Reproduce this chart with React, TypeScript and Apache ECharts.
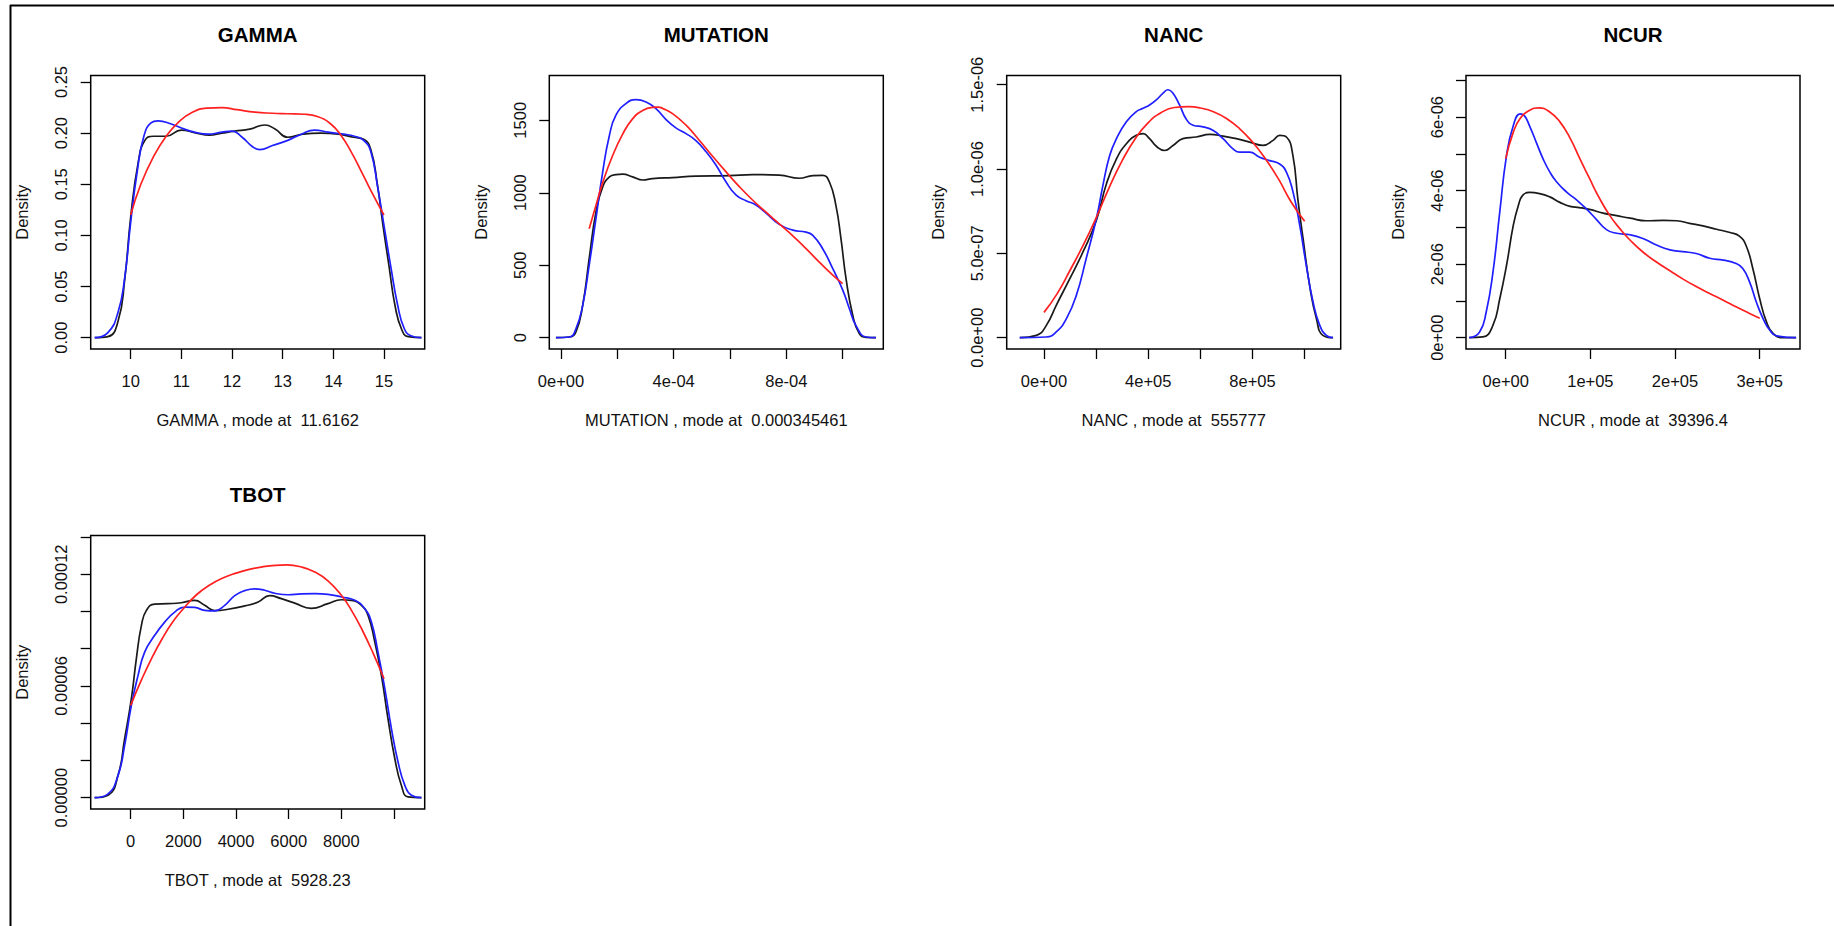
import React, { useEffect, useRef } from "react";
import * as echarts from "echarts";

const FONT = '"Liberation Sans", Arial, Helvetica, sans-serif';

// ---------- titles / axis names ----------
const panelTitles = ["GAMMA", "MUTATION", "NANC", "NCUR", "TBOT"];
const panelXNames = [
  "GAMMA , mode at  11.6162",
  "MUTATION , mode at  0.000345461",
  "NANC , mode at  555777",
  "NCUR , mode at  39396.4",
  "TBOT , mode at  5928.23",
];

// ---------- tick values and labels ----------
const gammaXTicks = [10, 11, 12, 13, 14, 15];
const gammaXLabelVals = [10, 11, 12, 13, 14, 15];
const gammaXLabels = ["10", "11", "12", "13", "14", "15"];
const gammaYTicks = [0, 0.05, 0.1, 0.15, 0.2, 0.25];
const gammaYLabels = ["0.00", "0.05", "0.10", "0.15", "0.20", "0.25"];

const mutationXTicks = [0, 2e-4, 4e-4, 6e-4, 8e-4, 1e-3];
const mutationXLabelVals = [0, 4e-4, 8e-4];
const mutationXLabels = ["0e+00", "4e-04", "8e-04"];
const mutationYTicks = [0, 500, 1000, 1500];
const mutationYLabels = ["0", "500", "1000", "1500"];

const nancXTicks = [0, 2e5, 4e5, 6e5, 8e5, 1e6];
const nancXLabelVals = [0, 4e5, 8e5];
const nancXLabels = ["0e+00", "4e+05", "8e+05"];
const nancYTicks = [0, 5e-7, 1e-6, 1.5e-6];
const nancYLabels = ["0.0e+00", "5.0e-07", "1.0e-06", "1.5e-06"];

const ncurXTicks = [0, 1e5, 2e5, 3e5];
const ncurXLabels = ["0e+00", "1e+05", "2e+05", "3e+05"];
const ncurYTicks = [0, 1e-6, 2e-6, 3e-6, 4e-6, 5e-6, 6e-6, 7e-6];
const ncurYLabelVals = [0, 2e-6, 4e-6, 6e-6];
const ncurYLabels = ["0e+00", "2e-06", "4e-06", "6e-06"];

const tbotXTicks = [0, 2000, 4000, 6000, 8000, 10000];
const tbotXLabelVals = [0, 2000, 4000, 6000, 8000];
const tbotXLabels = ["0", "2000", "4000", "6000", "8000"];
const tbotYTicks = [0, 2e-5, 4e-5, 6e-5, 8e-5, 1e-4, 1.2e-4, 1.4e-4];
const tbotYLabelVals = [0, 6e-5, 1.2e-4];
const tbotYLabels = ["0.00000", "0.00006", "0.00012"];

// ---------- density curves ----------
const gammaBlack = [[9.29,0],[9.55,0.001],[9.75,0.016],[9.88,0.056],[10.0,0.118],[10.15,0.172],[10.28,0.193],[10.45,0.197],[10.7,0.197],[11.0,0.203],[11.3,0.2],[11.55,0.198],[11.8,0.2],[12.05,0.202],[12.35,0.204],[12.65,0.208],[12.85,0.204],[13.1,0.196],[13.4,0.199],[13.75,0.2],[14.1,0.199],[14.4,0.196],[14.6,0.194],[14.74,0.184],[14.87,0.15],[14.98,0.11],[15.1,0.07],[15.22,0.031],[15.35,0.008],[15.48,0.001],[15.74,0]];
const gammaBlue = [[9.29,0],[9.55,0.005],[9.75,0.025],[9.88,0.058],[10.0,0.113],[10.13,0.163],[10.26,0.197],[10.4,0.21],[10.54,0.212],[10.8,0.209],[11.0,0.205],[11.26,0.201],[11.53,0.199],[11.8,0.201],[12.0,0.202],[12.2,0.196],[12.4,0.187],[12.55,0.184],[12.8,0.188],[13.1,0.193],[13.37,0.199],[13.63,0.203],[13.9,0.201],[14.2,0.199],[14.42,0.197],[14.6,0.193],[14.74,0.182],[14.88,0.146],[15.01,0.107],[15.14,0.068],[15.27,0.032],[15.4,0.009],[15.53,0.002],[15.74,0]];
const gammaRed = [[10.0,0.12],[10.2,0.15],[10.45,0.177],[10.7,0.197],[10.95,0.211],[11.2,0.22],[11.5,0.2245],[11.8,0.225],[12.1,0.223],[12.45,0.2205],[12.8,0.2195],[13.1,0.219],[13.43,0.2185],[13.7,0.216],[13.95,0.209],[14.15,0.198],[14.35,0.182],[14.55,0.163],[14.75,0.143],[15.0,0.12]];

const mutationBlack = [[-0.18e-4,0],[0.3e-4,5],[0.53e-4,39],[0.77e-4,223],[1.0e-4,545],[1.24e-4,867],[1.48e-4,1040],[1.72e-4,1109],[1.95e-4,1125],[2.19e-4,1128],[2.54e-4,1110],[2.9e-4,1088],[3.25e-4,1097],[3.96e-4,1105],[4.79e-4,1115],[5.98e-4,1118],[6.8e-4,1125],[7.75e-4,1122],[8.46e-4,1100],[8.94e-4,1118],[9.29e-4,1120],[9.53e-4,1074],[9.76e-4,913],[9.94e-4,683],[10.12e-4,407],[10.36e-4,154],[10.59e-4,28],[10.83e-4,2],[11.18e-4,0]];
const mutationBlue = [[-0.18e-4,0],[0.3e-4,5],[0.53e-4,62],[0.77e-4,223],[1.0e-4,499],[1.24e-4,821],[1.48e-4,1143],[1.72e-4,1397],[1.95e-4,1535],[2.31e-4,1616],[2.66e-4,1642],[3.02e-4,1626],[3.37e-4,1580],[3.73e-4,1505],[4.08e-4,1448],[4.44e-4,1408],[4.79e-4,1360],[5.15e-4,1283],[5.5e-4,1191],[5.86e-4,1074],[6.21e-4,985],[6.57e-4,945],[6.92e-4,916],[7.28e-4,860],[7.75e-4,782],[8.23e-4,742],[8.7e-4,728],[8.94e-4,706],[9.29e-4,614],[9.65e-4,476],[10.0e-4,330],[10.24e-4,200],[10.47e-4,85],[10.83e-4,5],[11.18e-4,0]];
const mutationRed = [[1.0e-4,752],[1.24e-4,913],[1.48e-4,1070],[1.83e-4,1255],[2.19e-4,1405],[2.54e-4,1510],[2.9e-4,1568],[3.25e-4,1589],[3.45e-4,1591],[3.61e-4,1582],[3.96e-4,1546],[4.44e-4,1466],[4.91e-4,1362],[5.39e-4,1250],[5.86e-4,1144],[6.33e-4,1042],[6.8e-4,950],[7.28e-4,866],[7.75e-4,785],[8.23e-4,703],[8.7e-4,615],[9.17e-4,522],[9.65e-4,432],[10.0e-4,373]];

const nancBlack = [[-0.93e5,0],[-0.29e5,0.14e-7],[0.09e5,0.73e-7],[0.47e5,1.92e-7],[0.99e5,3.5e-7],[1.5e5,5.1e-7],[2.01e5,6.96e-7],[2.39e5,9.1e-7],[2.78e5,10.6e-7],[3.16e5,11.5e-7],[3.54e5,12.0e-7],[3.8e5,12.1e-7],[4.05e5,11.8e-7],[4.31e5,11.35e-7],[4.63e5,11.1e-7],[4.95e5,11.4e-7],[5.33e5,11.8e-7],[5.84e5,11.9e-7],[6.36e5,12.05e-7],[6.87e5,11.95e-7],[7.38e5,11.8e-7],[7.89e5,11.6e-7],[8.4e5,11.4e-7],[8.79e5,11.7e-7],[9.04e5,12.0e-7],[9.3e5,11.9e-7],[9.55e5,10.8e-7],[9.74e5,8.2e-7],[9.94e5,5.87e-7],[10.19e5,3.1e-7],[10.45e5,1.13e-7],[10.7e5,0.14e-7],[11.09e5,0]];
const nancBlue = [[-0.93e5,0],[0.09e5,0.04e-7],[0.47e5,0.34e-7],[0.86e5,1.13e-7],[1.24e5,2.51e-7],[1.62e5,4.7e-7],[2.01e5,7.07e-7],[2.26e5,9.03e-7],[2.52e5,10.8e-7],[2.78e5,11.8e-7],[3.16e5,12.8e-7],[3.54e5,13.4e-7],[3.8e5,13.6e-7],[4.05e5,13.8e-7],[4.31e5,14.1e-7],[4.57e5,14.5e-7],[4.76e5,14.7e-7],[4.95e5,14.5e-7],[5.2e5,13.8e-7],[5.46e5,12.95e-7],[5.72e5,12.6e-7],[6.1e5,12.5e-7],[6.48e5,12.3e-7],[6.87e5,11.8e-7],[7.25e5,11.2e-7],[7.51e5,11.0e-7],[7.89e5,11.0e-7],[8.27e5,10.7e-7],[8.66e5,10.5e-7],[9.04e5,10.3e-7],[9.3e5,9.82e-7],[9.55e5,8.66e-7],[9.81e5,6.68e-7],[10.06e5,4.31e-7],[10.32e5,2.13e-7],[10.58e5,0.73e-7],[10.83e5,0.14e-7],[11.09e5,0]];
const nancRed = [[0,1.5e-7],[0.5e5,2.6e-7],[1.0e5,4.0e-7],[1.5e5,5.47e-7],[2.0e5,7.1e-7],[2.5e5,8.9e-7],[3.0e5,10.5e-7],[3.5e5,11.8e-7],[4.0e5,12.75e-7],[4.5e5,13.35e-7],[5.0e5,13.65e-7],[5.56e5,13.7e-7],[6.0e5,13.62e-7],[6.5e5,13.4e-7],[7.0e5,13.0e-7],[7.5e5,12.4e-7],[8.0e5,11.6e-7],[8.5e5,10.6e-7],[9.0e5,9.4e-7],[9.5e5,8.0e-7],[10.0e5,6.9e-7]];

const ncurBlack = [[-0.43e5,0],[-0.27e5,0.02e-6],[-0.15e5,0.34e-6],[-0.07e5,1.06e-6],[0.01e5,1.97e-6],[0.09e5,3.06e-6],[0.15e5,3.6e-6],[0.2e5,3.87e-6],[0.28e5,3.95e-6],[0.4e5,3.92e-6],[0.52e5,3.83e-6],[0.64e5,3.68e-6],[0.76e5,3.57e-6],[0.87e5,3.54e-6],[0.99e5,3.49e-6],[1.15e5,3.39e-6],[1.31e5,3.32e-6],[1.47e5,3.25e-6],[1.66e5,3.18e-6],[1.86e5,3.19e-6],[2.02e5,3.18e-6],[2.17e5,3.11e-6],[2.33e5,3.04e-6],[2.49e5,2.95e-6],[2.65e5,2.86e-6],[2.76e5,2.76e-6],[2.84e5,2.5e-6],[2.92e5,1.87e-6],[3.0e5,1.06e-6],[3.08e5,0.43e-6],[3.16e5,0.11e-6],[3.28e5,0],[3.43e5,0]];
const ncurBlue = [[-0.43e5,0],[-0.31e5,0.15e-6],[-0.23e5,0.7e-6],[-0.15e5,1.79e-6],[-0.07e5,3.42e-6],[0.01e5,4.96e-6],[0.09e5,5.77e-6],[0.17e5,6.09e-6],[0.22e5,6.04e-6],[0.28e5,5.77e-6],[0.36e5,5.32e-6],[0.44e5,4.87e-6],[0.52e5,4.51e-6],[0.6e5,4.24e-6],[0.72e5,3.96e-6],[0.84e5,3.74e-6],[0.95e5,3.51e-6],[1.07e5,3.22e-6],[1.19e5,2.94e-6],[1.31e5,2.84e-6],[1.47e5,2.8e-6],[1.62e5,2.7e-6],[1.78e5,2.52e-6],[1.94e5,2.39e-6],[2.09e5,2.34e-6],[2.25e5,2.29e-6],[2.41e5,2.16e-6],[2.57e5,2.11e-6],[2.72e5,2.02e-6],[2.8e5,1.88e-6],[2.88e5,1.52e-6],[2.96e5,0.97e-6],[3.04e5,0.52e-6],[3.12e5,0.2e-6],[3.2e5,0.05e-6],[3.43e5,0]];
const ncurRed = [[0,4.87e-6],[0.09e5,5.59e-6],[0.17e5,5.96e-6],[0.28e5,6.18e-6],[0.39e5,6.25e-6],[0.52e5,6.14e-6],[0.64e5,5.87e-6],[0.76e5,5.43e-6],[0.87e5,4.9e-6],[0.99e5,4.33e-6],[1.11e5,3.78e-6],[1.23e5,3.32e-6],[1.35e5,2.96e-6],[1.47e5,2.65e-6],[1.62e5,2.33e-6],[1.78e5,2.06e-6],[1.94e5,1.82e-6],[2.09e5,1.6e-6],[2.25e5,1.39e-6],[2.41e5,1.2e-6],[2.57e5,1.02e-6],[2.72e5,0.84e-6],[2.88e5,0.66e-6],[3.0e5,0.53e-6]];

const tbotBlack = [[-1370,0],[-860,0.13e-5],[-480,1.2e-5],[-230,3.17e-5],[25,5.32e-5],[215,7.47e-5],[405,9.24e-5],[595,10.06e-5],[910,10.4e-5],[1420,10.42e-5],[1920,10.47e-5],[2430,10.6e-5],[2810,10.33e-5],[3190,10.05e-5],[3700,10.12e-5],[4330,10.3e-5],[4840,10.51e-5],[5280,10.85e-5],[5720,10.69e-5],[6230,10.45e-5],[6860,10.17e-5],[7490,10.42e-5],[8000,10.63e-5],[8380,10.6e-5],[8760,10.33e-5],[9010,9.8e-5],[9270,8.36e-5],[9520,6.57e-5],[9770,4.24e-5],[10030,2.09e-5],[10280,0.66e-5],[10530,0.04e-5],[11040,0]];
const tbotBlue = [[-1370,0],[-860,0.21e-5],[-480,1.2e-5],[-230,2.81e-5],[25,4.96e-5],[280,6.57e-5],[530,7.82e-5],[910,8.72e-5],[1290,9.43e-5],[1670,9.97e-5],[2050,10.24e-5],[2430,10.22e-5],[2810,10.06e-5],[3190,10.03e-5],[3570,10.33e-5],[3950,10.85e-5],[4330,11.12e-5],[4710,11.22e-5],[5090,11.14e-5],[5470,10.98e-5],[5980,10.9e-5],[6480,10.95e-5],[6990,10.96e-5],[7490,10.92e-5],[8000,10.78e-5],[8510,10.6e-5],[8890,10.15e-5],[9140,9.43e-5],[9390,7.82e-5],[9650,5.86e-5],[9900,3.71e-5],[10150,1.93e-5],[10410,0.66e-5],[10660,0.13e-5],[11040,0]];
const tbotRed = [[0,4.96e-5],[400,6.3e-5],[800,7.5e-5],[1200,8.55e-5],[1600,9.45e-5],[2000,10.15e-5],[2500,10.9e-5],[3000,11.42e-5],[3500,11.8e-5],[4000,12.06e-5],[4500,12.26e-5],[5000,12.4e-5],[5500,12.48e-5],[5930,12.5e-5],[6480,12.39e-5],[6990,12.12e-5],[7490,11.65e-5],[8000,10.87e-5],[8400,10.02e-5],[8800,8.98e-5],[9200,7.78e-5],[9620,6.39e-5]];

// ---------- panel layout ----------
const PW = 334;
const PH = 273.5;
const panels = [
  { left: 90.7, top: 75.5, xMin: 9.2103, xMax: 15.8045, yMin: -0.01105, yMax: 0.2564,
    xTicks: gammaXTicks, xLabelVals: gammaXLabelVals, xLabels: gammaXLabels,
    yTicks: gammaYTicks, yLabelVals: gammaYTicks, yLabels: gammaYLabels,
    black: gammaBlack, blue: gammaBlue, red: gammaRed },
  { left: 549.3, top: 75.5, xMin: -4.154e-5, xMax: 1.1443e-3, yMin: -78, yMax: 1809,
    xTicks: mutationXTicks, xLabelVals: mutationXLabelVals, xLabels: mutationXLabels,
    yTicks: mutationYTicks, yLabelVals: mutationYTicks, yLabels: mutationYLabels,
    black: mutationBlack, blue: mutationBlue, red: mutationRed },
  { left: 1006.7, top: 75.5, xMin: -1.431e5, xMax: 1.1383e6, yMin: -6.7e-8, yMax: 1.5546e-6,
    xTicks: nancXTicks, xLabelVals: nancXLabelVals, xLabels: nancXLabels,
    yTicks: nancYTicks, yLabelVals: nancYTicks, yLabels: nancYLabels,
    black: nancBlack, blue: nancBlue, red: nancRed },
  { left: 1466, top: 75.5, xMin: -46890, xMax: 347585, yMin: -3.073e-7, yMax: 7.131e-6,
    xTicks: ncurXTicks, xLabelVals: ncurXTicks, xLabels: ncurXLabels,
    yTicks: ncurYTicks, yLabelVals: ncurYLabelVals, yLabels: ncurYLabels,
    black: ncurBlack, blue: ncurBlue, red: ncurRed },
  { left: 90.7, top: 535.5, xMin: -1519, xMax: 11164, yMin: -6.07e-6, yMax: 1.4082e-4,
    xTicks: tbotXTicks, xLabelVals: tbotXLabelVals, xLabels: tbotXLabels,
    yTicks: tbotYTicks, yLabelVals: tbotYLabelVals, yLabels: tbotYLabels,
    black: tbotBlack, blue: tbotBlue, red: tbotRed },
];

const lookup = (vals: number[], labels: string[]) => (v: number) => {
  const i = vals.findIndex((t) => Math.abs(t - v) <= Math.abs(t) * 1e-6 + 1e-15);
  return i >= 0 ? labels[i] : "";
};

function buildOption() {
  const grid: any[] = [];
  const xAxis: any[] = [];
  const yAxis: any[] = [];
  const series: any[] = [];
  const graphic: any[] = [];

  const tickStyle = { color: "#000", width: 1.3 };
  const labelStyle = { color: "#111", fontSize: 16.5, fontFamily: FONT };

  panels.forEach((p, i) => {
    grid.push({
      left: p.left, top: p.top, width: PW, height: PH,
      show: true, borderColor: "#000", borderWidth: 1.5, backgroundColor: "transparent",
    });
    xAxis.push({
      type: "value", gridIndex: i, min: p.xMin, max: p.xMax, position: "bottom",
      name: panelXNames[i], nameLocation: "middle", nameGap: 62,
      nameTextStyle: { ...labelStyle },
      axisLine: { show: false, onZero: false },
      splitLine: { show: false },
      axisTick: { show: true, inside: false, length: 10, lineStyle: tickStyle, customValues: p.xTicks },
      axisLabel: { ...labelStyle, margin: 23, customValues: p.xLabelVals, formatter: lookup(p.xLabelVals, p.xLabels) },
    });
    yAxis.push({
      type: "value", gridIndex: i, min: p.yMin, max: p.yMax, position: "left",
      name: "Density", nameLocation: "middle", nameGap: 60,
      nameTextStyle: { ...labelStyle },
      axisLine: { show: false, onZero: false },
      splitLine: { show: false },
      axisTick: { show: true, inside: false, length: 10, lineStyle: tickStyle, customValues: p.yTicks },
      axisLabel: { ...labelStyle, rotate: 90, margin: 21, customValues: p.yLabelVals, formatter: lookup(p.yLabelVals, p.yLabels) },
    });
    const curves: [any[], string][] = [[p.black, "#1a1a1a"], [p.blue, "#1f1fff"], [p.red, "#ff2020"]];
    curves.forEach(([d, c]) => {
      series.push({
        type: "line", xAxisIndex: i, yAxisIndex: i, data: d,
        showSymbol: false, symbol: "none", smooth: 0.5,
        lineStyle: { color: c, width: 1.7 }, itemStyle: { color: c }, silent: true,
      });
    });
    graphic.push({
      type: "text", x: p.left + PW / 2, y: p.top - 41.5, silent: true,
      style: {
        text: panelTitles[i], fill: "#000", fontSize: 20.5, fontWeight: "bold", fontFamily: FONT,
        align: "center", verticalAlign: "middle", textAlign: "center", textVerticalAlign: "middle",
      },
    });
  });

  graphic.push({ type: "line", silent: true, shape: { x1: 10, y1: 5.5, x2: 1834, y2: 5.5 }, style: { stroke: "#000", lineWidth: 2 } });
  graphic.push({ type: "line", silent: true, shape: { x1: 10.5, y1: 5, x2: 10.5, y2: 926 }, style: { stroke: "#000", lineWidth: 2 } });

  return {
    animation: false,
    backgroundColor: "#fff",
    grid, xAxis, yAxis, series, graphic,
  };
}

export default function App() {
  const ref = useRef<HTMLDivElement>(null);
  useEffect(() => {
    if (!ref.current) return;
    const chart = echarts.init(ref.current, null, { renderer: "svg" });
    chart.setOption(buildOption() as any);
    return () => chart.dispose();
  }, []);
  return (
    <div
      ref={ref}
      style={{ position: "fixed", left: 0, top: 0, width: 1834, height: 926, background: "#fff" }}
    />
  );
}
